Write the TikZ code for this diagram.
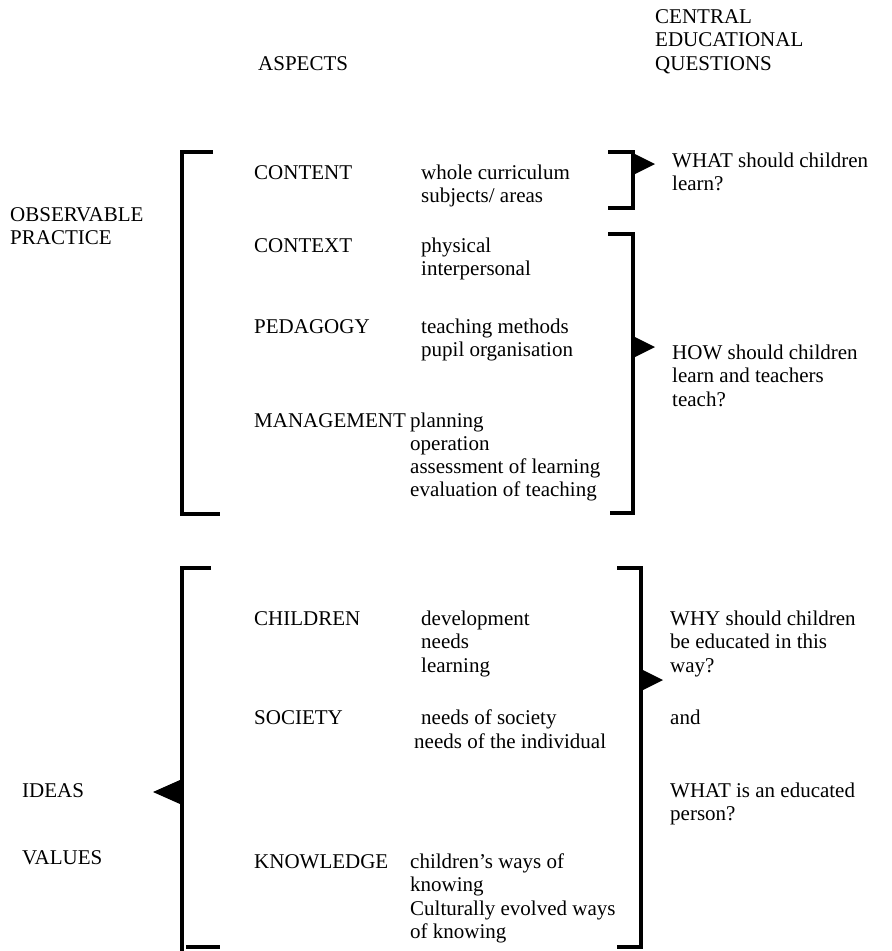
\documentclass[tikz,border=0pt]{standalone}
\usepackage{fontspec}
\setmainfont{Liberation Serif}

\begin{document}
\begin{tikzpicture}[x=1pt, y=-1pt,
    lbl/.style={anchor=base west, inner sep=0pt, font=\fontsize{21}{23.5}\selectfont},
    brk/.style={line width=4pt, line join=miter},
    tri/.style={fill=black}]
  \useasboundingbox (0,0) rectangle (892,951);

  %% headings
  \node[lbl] (aspects) at (258,70) {ASPECTS};
  \foreach \t [count=\i from 0] in {CENTRAL,EDUCATIONAL,QUESTIONS}
    \node[lbl] (ceq-\i) at (655,{23+23.5*\i}) {\t};

  %% left hand labels
  \node[lbl] (obs-0) at (10,221) {OBSERVABLE};
  \node[lbl] (obs-1) at (10,244) {PRACTICE};
  \node[lbl] (ideas) at (22,797) {IDEAS};
  \node[lbl] (values) at (22,864) {VALUES};

  %% observable practice
  \node[lbl] (content) at (254,179) {CONTENT};
  \foreach \t [count=\i from 0] in {whole curriculum,subjects/ areas}
    \node[lbl] (cont-\i) at (421,{179+23.5*\i}) {\t};
  \node[lbl] (context) at (254,252) {CONTEXT};
  \foreach \t [count=\i from 0] in {physical,interpersonal}
    \node[lbl] (ctx-\i) at (421,{252+23.5*\i}) {\t};
  \node[lbl] (pedagogy) at (254,333) {PEDAGOGY};
  \foreach \t [count=\i from 0] in {teaching methods,pupil organisation}
    \node[lbl] (ped-\i) at (421,{333+23.5*\i}) {\t};
  \node[lbl] (management) at (254,427) {MANAGEMENT};
  \foreach \t [count=\i from 0] in {planning,operation,assessment of learning,evaluation of teaching}
    \node[lbl] (man-\i) at (410,{427+23.3*\i}) {\t};

  %% ideas and values
  \node[lbl] (children) at (254,625) {CHILDREN};
  \foreach \t [count=\i from 0] in {development,needs,learning}
    \node[lbl] (chi-\i) at (421,{625+23.5*\i}) {\t};
  \node[lbl] (society) at (254,724) {SOCIETY};
  \node[lbl] (soc-0) at (421,724) {needs of society};
  \node[lbl] (soc-1) at (414,748) {needs of the individual};
  \node[lbl] (knowledge) at (254,868) {KNOWLEDGE};
  \foreach \t [count=\i from 0] in {children's ways of,knowing,Culturally evolved ways,of knowing}
    \node[lbl] (kno-\i) at (410,{868+23.5*\i}) {\t};

  %% questions
  \node[lbl] (what-0) at (672,167) {WHAT should children};
  \node[lbl] (what-1) at (672,190) {learn?};
  \foreach \t [count=\i from 0] in {HOW should children,learn and teachers,teach?}
    \node[lbl] (how-\i) at (672,{359+23.5*\i}) {\t};
  \foreach \t [count=\i from 0] in {WHY should children,be educated in this,way?}
    \node[lbl] (why-\i) at (670,{625+23.5*\i}) {\t};
  \node[lbl] (and) at (670,724) {and};
  \node[lbl] (ed-0) at (670,797) {WHAT is an educated};
  \node[lbl] (ed-1) at (670,820) {person?};

  %% brackets
  \draw[brk] (213,152) -| (182,514) -- (220,514);
  \draw[brk] (608,152) -| (633,208) -- (608,208);
  \draw[brk] (608,234) -| (633,513) -- (610,513);
  \draw[brk] (211,568) -| (182,951);
  \draw[brk] (186,947) -- (220,947);
  \draw[brk] (617,568) -| (641,947) -- (617,947);

  %% pointers
  \fill[tri] (633,153) -- (655,164) -- (633,175) -- cycle;
  \fill[tri] (633,336) -- (655,347) -- (633,358) -- cycle;
  \fill[tri] (641,669) -- (663,680) -- (641,691) -- cycle;
  \fill[tri] (180,780) -- (153,792) -- (180,804) -- cycle;
\end{tikzpicture}
\end{document}
